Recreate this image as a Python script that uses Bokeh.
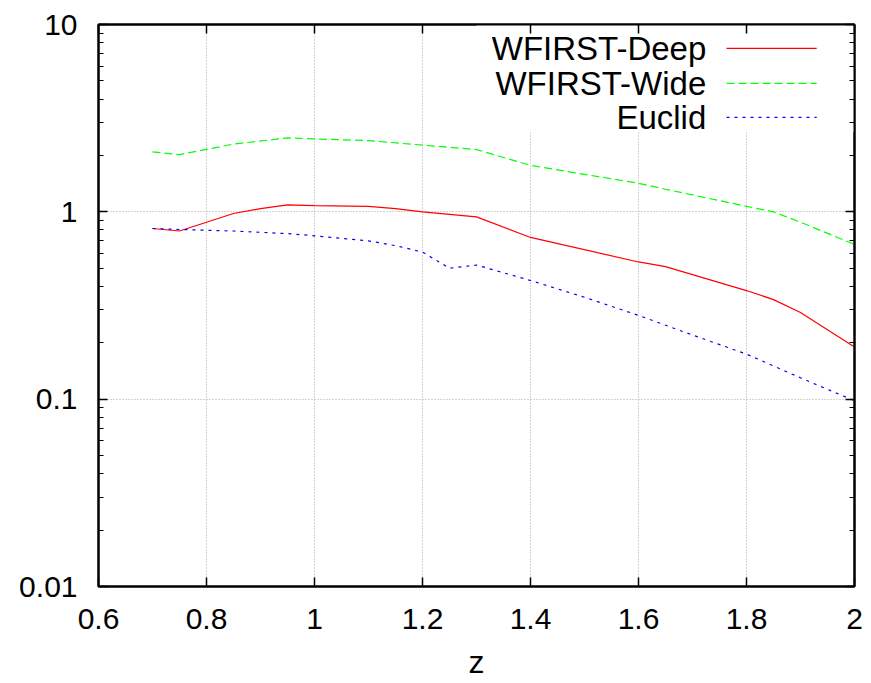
from bokeh.plotting import figure
from bokeh.models import (FixedTicker, LinearAxis, LogAxis, CustomJSTickFormatter,
                          BoxAnnotation, Label, Arrow, Range1d)
from bokeh.embed import file_html
from bokeh.resources import INLINE

# ---- data ----
z_deep = [0.70, 0.75, 0.85, 0.90, 0.95, 1.00, 1.10, 1.15, 1.20, 1.30, 1.40, 1.60, 1.65, 1.80, 1.85, 1.90, 2.00]
deep = [0.815, 0.79, 0.98, 1.04, 1.09, 1.08, 1.07, 1.04, 1.00, 0.94, 0.73, 0.54, 0.51, 0.38, 0.34, 0.29, 0.19]

z_wide = [0.70, 0.75, 0.85, 0.95, 1.00, 1.10, 1.20, 1.30, 1.40, 1.60, 1.65, 1.80, 1.85, 1.90, 2.00]
wide = [2.09, 2.02, 2.30, 2.48, 2.45, 2.40, 2.27, 2.15, 1.77, 1.42, 1.32, 1.07, 1.00, 0.88, 0.67]

z_euclid = [0.70, 0.75, 0.85, 0.95, 1.00, 1.10, 1.15, 1.20, 1.25, 1.30, 1.40, 1.50, 1.60, 1.70, 1.80, 1.90, 2.00]
euclid = [0.815, 0.805, 0.79, 0.765, 0.745, 0.70, 0.66, 0.61, 0.50, 0.52, 0.43, 0.35, 0.28, 0.22, 0.174, 0.13, 0.098]

series_names = ["WFIRST-Deep", "WFIRST-Wide", "Euclid"]
series_colors = ["#ff0000", "#00ff00", "#0000ff"]
series_dashes = ["solid", "8 4", "3 5"]

x_ticks = [0.6, 0.8, 1, 1.2, 1.4, 1.6, 1.8, 2]
y_ticks = [0.01, 0.1, 1, 10]
x_label = "z"

FONT = "Liberation Sans"

p = figure(width=863, height=683, output_backend="svg", toolbar_location=None,
           y_axis_type="log", x_range=Range1d(0.6, 2.0), y_range=Range1d(0.01, 10),
           min_border_left=98, min_border_right=9, min_border_top=24, min_border_bottom=97)

minor = [m * 10.0 ** e for e in (-2, -1, 0) for m in range(2, 10)]
xt = FixedTicker(ticks=x_ticks, minor_ticks=[])
yt = FixedTicker(ticks=y_ticks, minor_ticks=minor)
fmt = CustomJSTickFormatter(code="return String(tick);")
blank = CustomJSTickFormatter(code="return '';")

p.xaxis.ticker = xt
p.yaxis.ticker = yt
p.xaxis.formatter = fmt
p.yaxis.formatter = fmt

for ax in (p.xaxis[0], p.yaxis[0]):
    ax.major_tick_in = 9
    ax.major_tick_out = 0
    ax.minor_tick_in = 5
    ax.minor_tick_out = 0
    ax.axis_line_color = "black"
    ax.axis_line_width = 2
    ax.major_tick_line_color = "black"
    ax.minor_tick_line_color = "black"
    ax.major_tick_line_width = 1.5
    ax.minor_tick_line_width = 1
    ax.major_label_text_font = FONT
    ax.major_label_text_font_size = "30px"
    ax.major_label_text_color = "black"

p.yaxis.major_label_standoff = 21
p.xaxis.major_label_standoff = 22
p.xaxis.major_label_text_line_height = 1.0
p.xaxis.axis_label = x_label
p.xaxis.axis_label_text_font = FONT
p.xaxis.axis_label_text_font_size = "32px"
p.xaxis.axis_label_text_font_style = "normal"
p.xaxis.axis_label_text_color = "black"
p.xaxis.axis_label_text_line_height = 1.0
p.xaxis.axis_label_standoff = 12

# mirrored axes (ticks only)
top = LinearAxis(ticker=xt, formatter=blank, major_label_text_font_size="10px", major_label_standoff=0,
                 major_tick_in=9, major_tick_out=0, minor_tick_in=0, minor_tick_out=0,
                 axis_line_color="black", axis_line_width=2, major_tick_line_width=1.5)
right = LogAxis(ticker=yt, formatter=blank, major_label_text_font_size="10px", major_label_standoff=0,
                major_tick_in=9, major_tick_out=0, minor_tick_in=5, minor_tick_out=0,
                axis_line_color="black", axis_line_width=2, major_tick_line_width=1.5)
p.add_layout(top, "above")
p.add_layout(right, "right")

p.outline_line_color = "black"
p.outline_line_width = 2
p.outline_line_alpha = 1

for g in (p.xgrid[0], p.ygrid[0]):
    g.grid_line_color = "#a8a8a8"
    g.grid_line_dash = "1 2"
    g.grid_line_width = 1
    g.level = "image"

# legend background (white, hides grid)
p.add_layout(BoxAnnotation(left=1.30, right=2.0, bottom=2.66, top=10, fill_color="white",
                           fill_alpha=1, line_color=None, level="underlay"))

xs = [z_deep, z_wide, z_euclid]
ys = [deep, wide, euclid]
for x, y, c, d in zip(xs, ys, series_colors, series_dashes):
    p.line(x, y, line_color=c, line_width=1.2, line_dash=d)

# manual legend: text on the left, sample on the right
leg_y = [7.45, 4.85, 3.19]
for name, c, d, yy in zip(series_names, series_colors, series_dashes, leg_y):
    p.add_layout(Label(x=1.7255, y=yy, text=name, text_align="right", text_baseline="middle",
                       text_font=FONT, text_font_size="33px", text_color="black"))
    p.add_layout(Arrow(x_start=1.763, y_start=yy, x_end=1.93, y_end=yy, end=None,
                       line_color=c, line_width=1.2, line_dash=d))

p.background_fill_color = "white"
p.border_fill_color = "white"

open("out.html", "w").write(file_html(p, INLINE))
